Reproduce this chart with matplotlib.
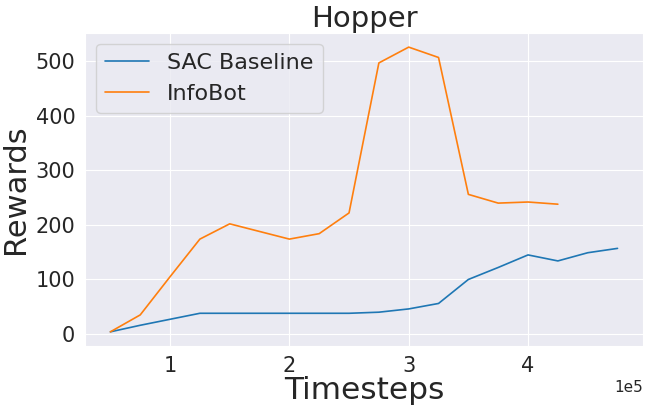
import numpy as np
import matplotlib
matplotlib.use("Agg")
import matplotlib.pyplot as plt
import seaborn as sns

sns.set_style("darkgrid")

# timesteps (x 1e5) and mean rewards
sac_steps = [0.5, 0.75, 1.0, 1.25, 1.5, 1.75, 2.0, 2.25, 2.5, 2.75, 3.0, 3.25, 3.5, 3.75, 4.0, 4.25, 4.5, 4.75]
sac_reward = [4, 16, 27, 38, 38, 38, 38, 38, 38, 40, 46, 56, 100, 122, 145, 134, 149, 157]

info_steps = [0.5, 0.75, 1.0, 1.25, 1.5, 1.75, 2.0, 2.25, 2.5, 2.75, 3.0, 3.25, 3.5, 3.75, 4.0, 4.25]
info_reward = [4, 35, 105, 174, 202, 188, 174, 184, 222, 497, 526, 507, 256, 240, 242, 238]

fig, ax = plt.subplots(figsize=(6.54, 4.11), dpi=100)
fig.subplots_adjust(left=0.130, right=0.983, top=0.920, bottom=0.158)

ax.plot(np.array(sac_steps) * 1e5, sac_reward, color="#1f77b4", lw=1.2, label="SAC Baseline")
ax.plot(np.array(info_steps) * 1e5, info_reward, color="#ff7f0e", lw=1.2, label="InfoBot")

ax.set_title("Hopper", fontsize=21, pad=4)
ax.set_xlabel("Timesteps", fontsize=22.5, labelpad=0)
ax.set_ylabel("Rewards", fontsize=22, labelpad=4)
ax.ticklabel_format(axis="x", style="sci", scilimits=(0, 0))
ax.tick_params(labelsize=15)
ax.xaxis.get_offset_text().set_fontsize(11)
ax.legend(fontsize=16, loc="upper left", facecolor="#eaeaf2", framealpha=0.8)

plt.savefig("out.png", dpi=100)
